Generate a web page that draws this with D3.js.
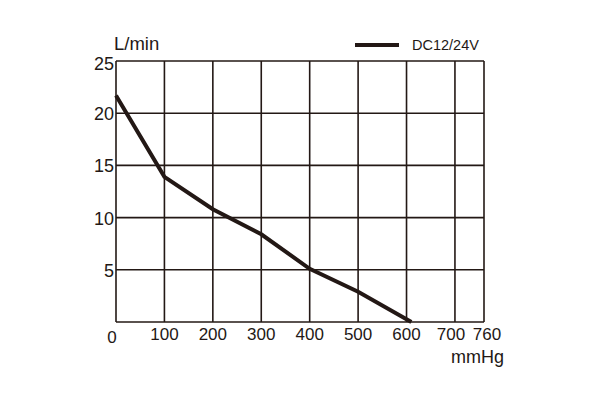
<!DOCTYPE html>
<html>
<head>
<meta charset="utf-8">
<script src="https://cdn.jsdelivr.net/npm/d3@7"></script>
<style>
  body { margin: 0; background: #fff; }
  svg { font-family: "Liberation Sans", Arial, sans-serif; }
</style>
</head>
<body>
<div id="chart"></div>
<script>
// data
const pressure = [0, 100, 200, 300, 400, 500, 610];
const flow = [21.7, 13.9, 10.8, 8.4, 5.1, 2.9, 0];
const xTicks = [0, 100, 200, 300, 400, 500, 600, 700, 760];
const yTicks = [5, 10, 15, 20, 25];
const seriesName = "DC12/24V";

const ink = "#231815";
const margin = {top: 61, right: 116, bottom: 78, left: 116};
const width = 600, height = 400;

let svg = d3.select("#chart").append("svg")
    .attr("width", width)
    .attr("height", height);

let xScale = d3.scaleLinear().domain([0, 760]).range([margin.left, 484]);
let yScale = d3.scaleLinear().domain([0, 25]).range([322, margin.top]);

// grid
let grid = svg.append("g").attr("stroke", ink).attr("stroke-width", 1.6);
grid.selectAll(".vgrid")
    .data(xTicks)
    .enter().append("line")
    .attr("class", "vgrid")
    .attr("x1", d => xScale(d)).attr("x2", d => xScale(d))
    .attr("y1", yScale(0)).attr("y2", yScale(25));
grid.selectAll(".hgrid")
    .data([0].concat(yTicks))
    .enter().append("line")
    .attr("class", "hgrid")
    .attr("x1", xScale(0)).attr("x2", xScale(760))
    .attr("y1", d => yScale(d)).attr("y2", d => yScale(d));

// y tick labels
svg.selectAll(".ylab")
    .data(yTicks)
    .enter().append("text")
    .attr("class", "ylab")
    .attr("x", xScale(0) - 2)
    .attr("y", d => yScale(d) + (d === 25 ? 9 : 7))
    .attr("text-anchor", "end")
    .attr("font-size", 18)
    .attr("fill", ink)
    .text(d => d);

// x tick labels (the last two are nudged apart like in the original)
let nudge = {0: -4, 700: -4, 760: 3};
svg.selectAll(".xlab")
    .data(xTicks)
    .enter().append("text")
    .attr("class", "xlab")
    .attr("x", d => xScale(d) + (nudge[d] || 0))
    .attr("y", d => d === 0 ? 343 : 340)
    .attr("text-anchor", "middle")
    .attr("font-size", 17)
    .attr("fill", ink)
    .text(d => d);

// axis titles
svg.append("text")
    .attr("x", 114).attr("y", 50)
    .attr("font-size", 18.5)
    .attr("fill", ink)
    .text("L/min");
svg.append("text")
    .attr("x", 504).attr("y", 363)
    .attr("text-anchor", "end")
    .attr("font-size", 18)
    .attr("fill", ink)
    .text("mmHg");

// curve
let points = pressure.map((p, i) => ({p: p, q: flow[i]}));
let lineGen = d3.line()
    .x(d => xScale(d.p))
    .y(d => yScale(d.q));
svg.append("path")
    .datum(points)
    .attr("d", lineGen)
    .attr("fill", "none")
    .attr("stroke", ink)
    .attr("stroke-width", 4);

// legend
svg.append("line")
    .attr("x1", 355).attr("x2", 399)
    .attr("y1", 45).attr("y2", 45)
    .attr("stroke", ink)
    .attr("stroke-width", 4);
svg.append("text")
    .attr("x", 412).attr("y", 50)
    .attr("font-size", 14.5)
    .attr("fill", ink)
    .text(seriesName);
</script>
</body>
</html>
